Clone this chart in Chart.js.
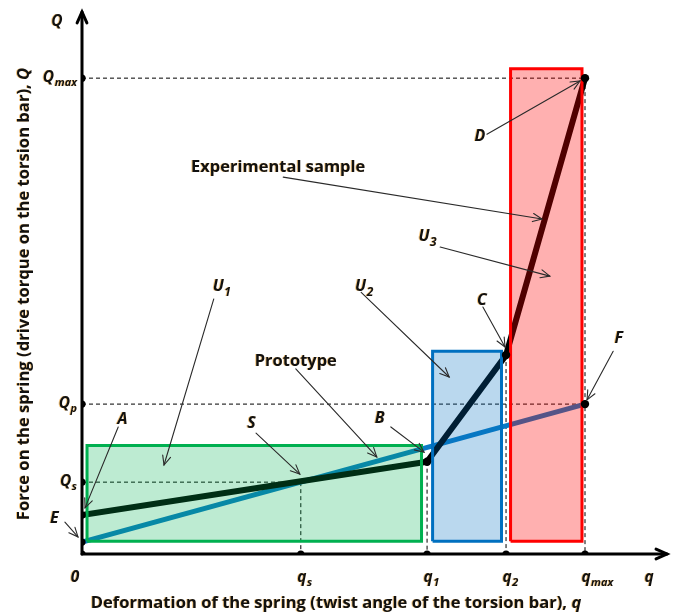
<!DOCTYPE html>
<html>
<head>
<meta charset="utf-8">
<script src="https://cdn.jsdelivr.net/npm/chart.js@4/dist/chart.umd.min.js"></script>
<style>
  html, body { margin: 0; padding: 0; background: #fff; }
  #wrap { width: 676px; height: 616px; position: relative; }
</style>
</head>
<body>
<div id="wrap"><canvas id="c"></canvas></div>
<script>
// Spring characteristic: twist angle q vs. drive torque Q (relative units, q_max = Q_max = 100)
const qTickSubs   = ['s', '1', '2', 'max'];
const qTickValues = [43.5, 68.6, 84.3, 100];
const QTickSubs   = ['max', 'p', 's'];
const QTickValues = [100, 31.5, 15.1];

// Prototype: straight line from the preload point to F
const protoQ      = [0, 100];
const protoTorque = [2.5, 31.5];

// Experimental sample: E -> B -> C -> D
const expQ      = [0, 68.6, 84.3, 100];
const expTorque = [8.2, 19.4, 41.8, 100];

// Working zones U1, U2, U3
const zoneSubs   = ['1', '2', '3'];
const zoneFrom   = [1.0, 69.7, 85.2];
const zoneTo     = [67.5, 83.4, 99.4];
const zoneTop    = [22.8, 42.6, 102.0];
const zoneBase   = [2.7, 2.7, 2.7];
const zoneFill   = ['rgba(0,176,80,0.26)', 'rgba(0,112,192,0.27)', 'rgba(255,0,0,0.31)'];
const zoneBorder = ['#00b050', '#0070c0', '#ff0000'];

// Callout labels: text, subscript, label centre, arrow start, arrow tip (data units)
const noteText = ['Experimental sample', 'U', 'U', 'U', 'Prototype', 'S', 'A', 'B', 'C', 'D', 'E', 'F'];
const noteSub  = ['', '1', '2', '3', '', '', '', '', '', '', '', ''];
const noteAt   = [[39.0, 81.5], [27.8, 56.5], [56.1, 56.5], [68.7, 67.0], [42.5, 40.8], [33.7, 27.8],
                  [8.05, 28.5], [59.2, 28.7], [79.5, 53.6], [79.1, 88.0], [-5.5, 7.8], [106.7, 45.5]];
const noteFrom = [[40.0, 79.2], [26.2, 53.6], [55.5, 55.0], [71.2, 64.5], [42.5, 38.9], [34.6, 25.4],
                  [7.2, 26.7], [61.4, 26.7], [79.7, 51.9], [80.5, 88.2], [-3.4, 6.7], [105.6, 42.6]];
const noteTo   = [[91.45, 70.4], [16.3, 18.7], [73.0, 37.2], [93.0, 58.4], [58.6, 20.4], [43.3, 16.8],
                  [0.6, 9.7], [68.0, 21.4], [84.1, 43.5], [99.0, 99.4], [-0.8, 3.6], [100.4, 32.4]];

const FONT = '"Open Sans", Lato, "DejaVu Sans", sans-serif';

const pt = (x, y) => ({ x, y });
const qs = qTickValues[0], q1 = qTickValues[1], q2 = qTickValues[2], qmax = qTickValues[3];
const Qmax = QTickValues[0], Qp = QTickValues[1], Qs = QTickValues[2];

const datasets = [];

// points on the axes
datasets.push({
  label: 'axis points',
  data: [...QTickValues.map(v => pt(0, v)), pt(0, expTorque[0]), pt(0, protoTorque[0]), pt(0, 0),
         ...qTickValues.map(v => pt(v, 0))],
  showLine: false, pointRadius: 3.6, pointBackgroundColor: '#000', pointBorderWidth: 0, order: 0
});
// characteristic points B, C, D, F
datasets.push({
  label: 'characteristic points',
  data: [pt(expQ[1], expTorque[1]), pt(expQ[2], expTorque[2]), pt(expQ[3], expTorque[3]), pt(protoQ[1], protoTorque[1])],
  showLine: false, pointRadius: 4.2, pointBackgroundColor: '#000', pointBorderWidth: 0, order: 0
});
// zones (translucent, drawn over the curves)
zoneSubs.forEach((s, i) => {
  datasets.push({
    label: 'U' + s,
    data: [pt(zoneFrom[i], zoneBase[i]), pt(zoneFrom[i], zoneTop[i]), pt(zoneTo[i], zoneTop[i]),
           pt(zoneTo[i], zoneBase[i]), pt(zoneFrom[i], zoneBase[i])],
    showLine: true, fill: 'shape', backgroundColor: zoneFill[i], borderColor: zoneBorder[i],
    borderWidth: 3, borderJoinStyle: 'miter', pointRadius: 0, order: 1
  });
});
// experimental sample
datasets.push({
  label: 'Experimental sample',
  data: expQ.map((q, i) => pt(q, expTorque[i])),
  showLine: true, borderColor: '#000', borderWidth: 6, borderCapStyle: 'round', borderJoinStyle: 'round',
  pointRadius: 0, fill: false, order: 2
});
// prototype
datasets.push({
  label: 'Prototype',
  data: protoQ.map((q, i) => pt(q, protoTorque[i])),
  showLine: true, borderColor: '#0a7ac4', borderWidth: 5, pointRadius: 0, fill: false, order: 3
});
// dashed projection lines
const guides = [
  [pt(0, Qmax), pt(qmax, Qmax)],
  [pt(0, Qp), pt(qmax, Qp)],
  [pt(0, Qs), pt(qs, Qs)],
  [pt(qs, Qs), pt(qs, 0)],
  [pt(q1, expTorque[1]), pt(q1, 0)],
  [pt(q2, expTorque[2]), pt(q2, 0)],
  [pt(qmax, Qmax), pt(qmax, 0)]
];
guides.forEach(g => datasets.push({
  label: 'guide', data: g, showLine: true, borderColor: '#000', borderWidth: 1,
  borderDash: [4, 3], pointRadius: 0, fill: false, order: 4
}));

function arrow(ctx, x1, y1, x2, y2, color, width, head) {
  const a = Math.atan2(y2 - y1, x2 - x1);
  ctx.save();
  ctx.strokeStyle = color; ctx.lineWidth = width; ctx.lineCap = 'round'; ctx.lineJoin = 'miter';
  ctx.beginPath(); ctx.moveTo(x1, y1); ctx.lineTo(x2, y2); ctx.stroke();
  ctx.beginPath();
  ctx.moveTo(x2 - head * Math.cos(a - 0.42), y2 - head * Math.sin(a - 0.42));
  ctx.lineTo(x2, y2);
  ctx.lineTo(x2 - head * Math.cos(a + 0.42), y2 - head * Math.sin(a + 0.42));
  ctx.stroke();
  ctx.restore();
}

function fringe(ctx) {
  ctx.shadowColor = 'rgba(235,150,20,0.55)';
  ctx.shadowOffsetX = -1; ctx.shadowOffsetY = 0; ctx.shadowBlur = 0.6;
}

// main text + subscript; align: 'left' | 'center' | 'right'; y is the baseline
function subLabel(ctx, main, sub, x, y, align, size, italic) {
  const style = italic ? 'italic bold ' : 'bold ';
  const fMain = style + size + 'px ' + FONT;
  const fSub = style + Math.round(size * 0.72) + 'px ' + FONT;
  ctx.font = fMain; const w1 = ctx.measureText(main).width;
  ctx.font = fSub; const w2 = sub ? ctx.measureText(sub).width : 0;
  const w = w1 + (sub ? w2 + 0.5 : 0);
  let x0 = align === 'center' ? x - w / 2 : align === 'right' ? x - w : x;
  ctx.textAlign = 'left'; ctx.textBaseline = 'alphabetic';
  ctx.font = fMain; ctx.fillText(main, x0, y);
  if (sub) { ctx.font = fSub; ctx.fillText(sub, x0 + w1 + 0.5, y + size * 0.28); }
}

const sketch = {
  id: 'sketch',
  beforeDatasetsDraw(chart) {
    const { ctx, chartArea: a, scales: { x, y } } = chart;
    const x0 = x.getPixelForValue(0), y0 = y.getPixelForValue(0);
    arrow(ctx, x0, y0, a.right, y0, '#000', 3, 12);
    arrow(ctx, x0, y0, x0, a.top, '#000', 3, 12);
  },
  afterDatasetsDraw(chart) {
    const { ctx, scales: { x, y } } = chart;
    const X = v => x.getPixelForValue(v), Y = v => y.getPixelForValue(v);
    // callout arrows
    noteText.forEach((t, i) => {
      arrow(ctx, X(noteFrom[i][0]), Y(noteFrom[i][1]), X(noteTo[i][0]), Y(noteTo[i][1]), '#2a2a2a', 1.1, 10);
    });
    ctx.save();
    ctx.fillStyle = '#111';
    fringe(ctx);
    // callout labels
    noteText.forEach((t, i) => {
      const word = t.length > 1;
      const size = word ? 16.5 : 16;
      subLabel(ctx, t, noteSub[i], X(noteAt[i][0]), Y(noteAt[i][1]) + 6, 'center', size, !word);
    });
    // torque ticks
    QTickValues.forEach((v, i) => subLabel(ctx, 'Q', QTickSubs[i], X(0) - 5, Y(v) + 4, 'right', 15.5, true));
    // angle ticks
    qTickValues.forEach((v, i) => {
      ctx.font = 'italic bold 15.5px ' + FONT;
      const wq = ctx.measureText('q').width;
      subLabel(ctx, 'q', qTickSubs[i], X(v) + 1 - wq / 2, Y(0) + 28, 'left', 15.5, true);
    });
    subLabel(ctx, '0', '', X(0) - 7, Y(0) + 28, 'center', 15.5, true);
    subLabel(ctx, 'q', '', X(0) + 567, Y(0) + 28, 'center', 15.5, true);
    subLabel(ctx, 'Q', '', X(0) - 25, chart.chartArea.top + 14, 'center', 15.5, true);

    // axis titles
    const titleX = ['Deformation of the spring (twist angle of the torsion bar), ', 'q'];
    const titleY = ['Force on the spring (drive torque on the torsion bar), ', 'Q'];
    const drawTitle = (parts, cx, by) => {
      ctx.font = 'bold 16.6px ' + FONT; const w1 = ctx.measureText(parts[0]).width;
      ctx.font = 'italic bold 16.6px ' + FONT; const w2 = ctx.measureText(parts[1]).width;
      const s = cx - (w1 + w2) / 2;
      ctx.textAlign = 'left'; ctx.textBaseline = 'alphabetic';
      ctx.font = 'bold 16.6px ' + FONT; ctx.fillText(parts[0], s, by);
      ctx.font = 'italic bold 16.6px ' + FONT; ctx.fillText(parts[1], s + w1, by);
    };
    drawTitle(titleX, 336, 608);
    ctx.save();
    ctx.translate(29, 294);
    ctx.rotate(-Math.PI / 2);
    drawTitle(titleY, 0, 0);
    ctx.restore();
    ctx.restore();
  }
};

new Chart(document.getElementById('c'), {
  type: 'scatter',
  data: { datasets },
  options: {
    responsive: true,
    maintainAspectRatio: false,
    animation: false,
    layout: { padding: { left: 82, right: 9, top: 12, bottom: 62 } },
    scales: {
      x: { type: 'linear', min: 0, max: 116.3, display: false },
      y: { type: 'linear', min: 0, max: 113.9, display: false }
    },
    plugins: { legend: { display: false }, tooltip: { enabled: false } },
    elements: { line: { tension: 0 } }
  },
  plugins: [sketch]
});
</script>
</body>
</html>
